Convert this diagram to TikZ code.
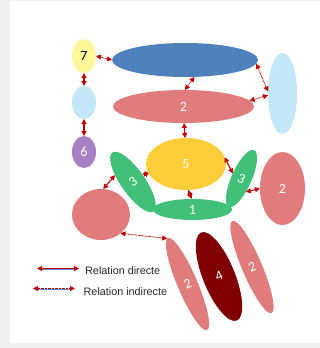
\documentclass[tikz,border=0pt]{standalone}
\usepackage{fontspec}
\usetikzlibrary{shapes.geometric,arrows.meta}
\newfontfamily\numfont{Carlito}
\newfontfamily\legfont{Liberation Sans}
\definecolor{bggray}{HTML}{F0F0F0}
\definecolor{salmon}{HTML}{E07C7C}
\definecolor{blueE}{HTML}{4F81BD}
\definecolor{lightblueE}{HTML}{C1E7F8}
\definecolor{yellow7}{HTML}{FFF99B}
\definecolor{purple6}{HTML}{A682C4}
\definecolor{yellow5}{HTML}{FFCC3A}
\definecolor{greenE}{HTML}{41C07A}
\definecolor{darkred4}{HTML}{800000}
\definecolor{ared}{HTML}{C00000}
\definecolor{legblue}{HTML}{5B8BD0}
\tikzset{
  ell/.style={ellipse, draw=none, inner sep=0pt, outer sep=0pt, text=white, font=\numfont\fontsize{14pt}{16pt}\selectfont},
  tip/.style={Triangle[length=5pt,width=5pt]},
  dirarrow/.style={draw=ared, line width=1.1pt, {Triangle[length=5pt,width=5pt]}-{Triangle[length=5pt,width=5pt]}},
  indarrow/.style={draw=ared, line width=0.8pt, dash pattern=on 0.8pt off 0.6pt, {Triangle[length=5pt,width=5pt]}-{Triangle[length=5pt,width=5pt]}},
  legtext/.style={anchor=base west, inner sep=0pt, text=black!85, font=\legfont\fontsize{10.8pt}{13pt}\selectfont}
}
\begin{document}
\begin{tikzpicture}[x=1pt,y=-1pt]
\useasboundingbox (0,0) rectangle (320,348);
\fill[bggray] (0,0) rectangle (320,348);
\fill[white] (10,1) rectangle (320,343);

% shapes
\node[ell, fill=yellow7, minimum width=24pt, minimum height=34pt, text=black] (n7) at (84,56) {7};
\node[ell, fill=blueE, minimum width=146pt, minimum height=34pt] (blue) at (185,60) {};
\node[ell, fill=lightblueE, minimum width=24pt, minimum height=33pt] (lbl) at (84,102.5) {};
\node[ell, fill=lightblueE, minimum width=29pt, minimum height=81pt] (rlb) at (282.5,93.5) {};
\node[ell, fill=salmon, minimum width=141pt, minimum height=33pt] (s2) at (183.5,106.5) {2};
\node[ell, fill=purple6, minimum width=24pt, minimum height=32pt] (n6) at (84,152) {6};
\node[ell, fill=yellow5, minimum width=80pt, minimum height=52pt] (y5) at (186,164) {5};
\node[ell, fill=greenE, minimum width=24pt, minimum height=72pt, rotate=35] (g3L) at (133,182) {3};
\node[ell, fill=greenE, minimum width=20pt, minimum height=62pt, rotate=-24] (g3R) at (241.5,178.5) {3};
\node[ell, fill=greenE, minimum width=79pt, minimum height=21pt] (g1) at (192.5,209.5) {1};
\node[ell, fill=salmon, minimum width=45pt, minimum height=73pt] (s2R) at (282.5,188.5) {2};
\node[ell, fill=salmon, minimum width=58pt, minimum height=51pt] (circ) at (101,214.5) {};
\node[ell, fill=salmon, minimum width=20pt, minimum height=100pt, rotate=23] (b2L) at (187.5,284) {2};
\node[ell, fill=darkred4, minimum width=32pt, minimum height=95pt, rotate=22] (d4) at (219,276.5) {4};
\node[ell, fill=salmon, minimum width=20pt, minimum height=100pt, rotate=23] (b2R) at (252,267) {2};

% connectors
\draw[indarrow] (n7.east) -- (blue.west);
\draw[dirarrow] (n7.south) -- (lbl.north);
\draw[dirarrow] (lbl.south) -- (n6.north);
\draw[indarrow] (blue.-61) -- (s2.85);
\draw[indarrow] (blue.-3) -- (rlb.172);
\draw[indarrow] (s2.5) -- (rlb.187);
\draw[dirarrow] (s2.-88) -- (y5.92);
\draw[dirarrow] (y5.191) -- (g3L.-8);
\draw[dirarrow] (y5.10) -- (g3R.174);
\draw[dirarrow] (g3R.-48) -- (s2R.west);
\draw[dirarrow] (y5.-85) -- (g1.95);
\draw[dirarrow] (circ.85) -- (g3L.124);
\draw[indarrow] (circ.-44) -- (b2L.91);

% legend
\coordinate (ld1) at (37,268.5);
\coordinate (ld2) at (79,268.5);
\coordinate (lb1) at (40,269.6);
\coordinate (lb2) at (76,269.6);
\coordinate (li1) at (33,288.5);
\coordinate (li2) at (75,288.5);
\coordinate (lc1) at (36,289.6);
\coordinate (lc2) at (72,289.6);
\draw[legblue, line width=0.6pt] (lb1) -- (lb2);
\draw[dirarrow] (ld1) -- (ld2);
\draw[legblue, line width=0.6pt] (lc1) -- (lc2);
\draw[indarrow] (li1) -- (li2);
\node[legtext] (t1) at (85,274.3) {Relation directe};
\node[legtext] (t2) at (83.5,295) {Relation indirecte};
\end{tikzpicture}
\end{document}
